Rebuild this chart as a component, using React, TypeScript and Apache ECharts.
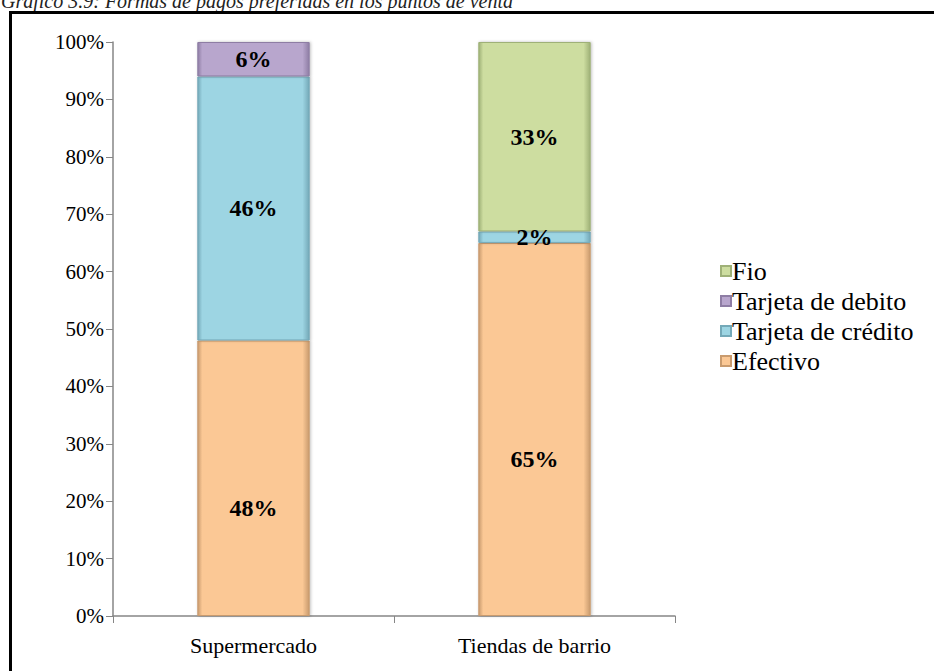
import React, { useEffect, useRef } from "react";
import * as echarts from "echarts";

const categories = ["Supermercado", "Tiendas de barrio"];
const efectivo = [48, 65];
const credito = [46, 2];
const debito = [6, 0];
const fio = [0, 33];
const yTicks = [0, 10, 20, 30, 40, 50, 60, 70, 80, 90, 100];
const titleText = "Gráfico 3.9: Formas de pagos preferidas en los puntos de venta";
const legendOrder = ["Fio", "Tarjeta de debito", "Tarjeta de crédito", "Efectivo"];

const FONT = "Liberation Serif";

function bevel(base: string, dark: string) {
  return {
    color: new echarts.graphic.LinearGradient(0, 0, 1, 0, [
      { offset: 0, color: dark },
      { offset: 0.04, color: base },
      { offset: 0.94, color: base },
      { offset: 1, color: dark },
    ]),
    borderColor: dark,
    borderWidth: 1,
    shadowColor: "rgba(0,0,0,0.25)",
    shadowBlur: 3,
    shadowOffsetX: 1,
    shadowOffsetY: 0,
  };
}

export default function App() {
  const ref = useRef<HTMLDivElement>(null);
  useEffect(() => {
    document.body.style.margin = "0";
    const chart = echarts.init(ref.current!, null, { renderer: "svg" });
    const mkLabel = (offsetY: number) => ({
      show: true,
      position: "inside",
      offset: [0, offsetY],
      fontFamily: FONT,
      fontSize: 24,
      fontWeight: "bold",
      color: "#000",
      formatter: (p: any) => (p.value > 0 ? p.value + "%" : ""),
    });
    const mk = (name: string, data: number[], base: string, dark: string, offsetY: number) => ({
      name,
      type: "bar",
      stack: "total",
      barWidth: "40%",
      data,
      label: mkLabel(offsetY),
      itemStyle: bevel(base, dark),
    });
    chart.setOption({
      animation: false,
      textStyle: { fontFamily: FONT },
      grid: { left: 113, right: 259, top: 42, bottom: 55, containLabel: false },
      legend: {
        orient: "vertical",
        left: 715,
        top: 253,
        itemGap: 4,
        itemWidth: 10,
        itemHeight: 10,
        icon: "rect",
        data: legendOrder,
        textStyle: { fontFamily: FONT, fontSize: 26, color: "#000", padding: [0, 0, 0, -4] },
      },
      xAxis: {
        type: "category",
        data: categories,
        axisLine: { lineStyle: { color: "#868686", width: 1.5 } },
        axisTick: { show: true, length: 7, lineStyle: { color: "#868686" } },
        axisLabel: { fontFamily: FONT, fontSize: 22, color: "#000", margin: 18 },
      },
      yAxis: {
        type: "value",
        min: 0,
        max: 100,
        interval: 10,
        axisLine: { show: true, lineStyle: { color: "#868686", width: 1.5 } },
        axisTick: { show: true, length: 7, lineStyle: { color: "#868686" } },
        splitLine: { show: false },
        axisLabel: {
          fontFamily: FONT,
          fontSize: 21,
          color: "#000",
          margin: 9,
          formatter: (v: number) => (yTicks.includes(v) ? v + "%" : ""),
        },
      },
      series: [
        mk("Efectivo", efectivo, "#FBC895", "#C99B6E", 30),
        mk("Tarjeta de crédito", credito, "#9DD5E3", "#74A9B8", 0),
        mk("Tarjeta de debito", debito, "#B8A6CD", "#8E7DA4", 0),
        mk("Fio", fio, "#CDDDA0", "#9FB177", 0),
      ],
      graphic: [
        {
          type: "text",
          left: 1,
          top: -9,
          style: {
            text: titleText,
            fontFamily: FONT,
            fontSize: 20,
            fontStyle: "italic",
            fill: "#222",
          },
        },
        {
          type: "rect",
          shape: { x: 10.5, y: 12.5, width: 1100, height: 1100 },
          style: { fill: "none", stroke: "#000", lineWidth: 3 },
          z: 100,
        },
      ],
    });
    return () => chart.dispose();
  }, []);
  return (
    <div
      ref={ref}
      style={{ position: "absolute", left: 0, top: 0, width: 934, height: 671, background: "#fff" }}
    />
  );
}
